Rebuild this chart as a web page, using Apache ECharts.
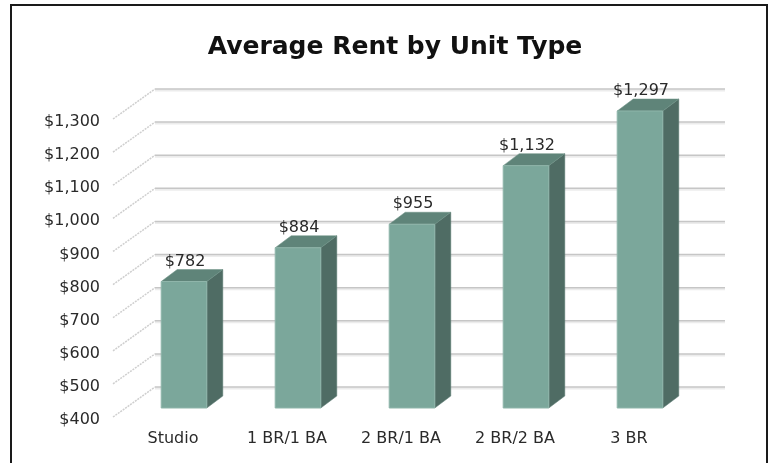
<!DOCTYPE html>
<html>
<head>
<meta charset="utf-8">
<script src="https://cdn.jsdelivr.net/npm/echarts@6/dist/echarts.min.js"></script>
<style>
  html, body { margin: 0; padding: 0; background: #fff; }
  #chart { width: 772px; height: 463px; }
</style>
</head>
<body>
<div id="chart"></div>
<script>
const unitTypes = ['Studio', '1 BR/1 BA', '2 BR/1 BA', '2 BR/2 BA', '3 BR'];
const avgRent = [782, 884, 955, 1132, 1297];
const rentTicks = [400, 500, 600, 700, 800, 900, 1000, 1100, 1200, 1300];

const fmt = v => '$' + String(v).replace(/\B(?=(\d{3})+(?!\d))/g, ',');

// depth offsets (px) for the fake 3d look
const wallDx = 28, wallDy = -21;   // back wall
const floorDx = -14, floorDy = 9;  // front edge of floor
const barDx = 16, barDy = -12;     // bar depth

const chart = echarts.init(document.getElementById('chart'));

chart.setOption({
  animation: false,
  textStyle: { fontFamily: 'DejaVu Sans' },
  title: {
    text: 'Average Rent by Unit Type',
    left: 390,
    top: 30,
    textAlign: 'center',
    textStyle: { fontFamily: 'DejaVu Sans', fontSize: 25, fontWeight: 'bold', color: '#111' }
  },
  graphic: [{
    type: 'rect',
    shape: { x: 11, y: 5, width: 756, height: 480 },
    style: { fill: 'none', stroke: '#1a1a1a', lineWidth: 2 },
    silent: true
  }],
  grid: { left: 127, right: 75, top: 110, bottom: 55 },
  xAxis: {
    type: 'category',
    data: unitTypes,
    axisLine: { show: false },
    axisTick: { show: false },
    axisLabel: { margin: 23, fontSize: 16, color: '#2a2a2a', padding: [0, 22, 0, 0] }
  },
  yAxis: {
    type: 'value',
    min: 400,
    max: 1300,
    interval: 100,
    splitLine: { show: false },
    axisLine: { show: false },
    axisLabel: { show: false }
  },
  series: [
    {
      // back wall gridlines, side wall diagonals and value labels on the floor edge
      type: 'custom',
      silent: true,
      z: 1,
      data: rentTicks.map(v => [0, v]),
      renderItem: function (params, api) {
        const cs = params.coordSys;
        const v = api.value(1);
        const y = api.coord([0, v])[1];
        const xl = cs.x, xr = cs.x + cs.width;
        return {
          type: 'group',
          children: [
            {
              type: 'line',
              shape: { x1: xl + wallDx, y1: y + wallDy + 1.5, x2: xr + wallDx, y2: y + wallDy + 1.5 },
              style: { stroke: '#ececec', lineWidth: 2 }
            },
            {
              type: 'line',
              shape: { x1: xl + wallDx, y1: y + wallDy, x2: xr + wallDx, y2: y + wallDy },
              style: { stroke: '#c6c6c6', lineWidth: 1.5 }
            },
            {
              type: 'line',
              shape: { x1: xl + floorDx, y1: y + floorDy, x2: xl + wallDx, y2: y + wallDy },
              style: { stroke: '#cfcfcf', lineWidth: 1.5, lineDash: [2, 1] }
            },
            {
              type: 'text',
              style: {
                text: fmt(v),
                x: xl + floorDx - 13,
                y: y + floorDy + 3,
                align: 'right',
                verticalAlign: 'middle',
                fontFamily: 'DejaVu Sans',
                fontSize: 16,
                fill: '#2a2a2a'
              }
            }
          ]
        };
      }
    },
    {
      type: 'custom',
      z: 2,
      data: avgRent.map((v, i) => [i, v]),
      renderItem: function (params, api) {
        const val = api.value(1);
        const top = api.coord([api.value(0), val]);
        const base = api.coord([api.value(0), 400]);
        const w = api.size([1, 0])[0] * 0.4;
        const x0 = top[0] - w / 2, x1 = top[0] + w / 2;
        const yt = top[1], yb = base[1];
        return {
          type: 'group',
          children: [
            {
              type: 'polygon',
              shape: { points: [[x1, yt], [x1 + barDx, yt + barDy], [x1 + barDx, yb + barDy], [x1, yb]] },
              style: { fill: '#4f6c64', stroke: '#5d7d74', lineWidth: 0.5 }
            },
            {
              type: 'polygon',
              shape: { points: [[x0, yt], [x0 + barDx, yt + barDy], [x1 + barDx, yt + barDy], [x1, yt]] },
              style: { fill: '#5f8479', stroke: '#6d9085', lineWidth: 0.5 }
            },
            {
              type: 'rect',
              shape: { x: x0, y: yt, width: w, height: yb - yt },
              style: { fill: '#7ba79b', stroke: '#8fb5aa', lineWidth: 1 }
            },
            {
              type: 'text',
              style: {
                text: fmt(val),
                x: top[0] + 1,
                y: yt - 20,
                align: 'center',
                verticalAlign: 'middle',
                fontFamily: 'DejaVu Sans',
                fontSize: 16,
                fill: '#2a2a2a'
              }
            }
          ]
        };
      }
    }
  ]
});
</script>
</body>
</html>
